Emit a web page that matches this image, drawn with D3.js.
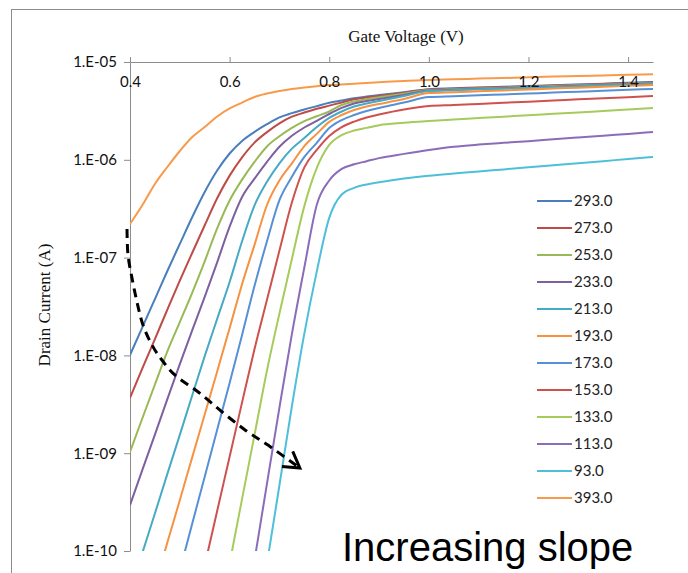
<!DOCTYPE html>
<html>
<head>
<meta charset="utf-8">
<script src="https://cdn.jsdelivr.net/npm/d3@7"></script>
<style>
  html, body { margin: 0; padding: 0; background: #ffffff; }
  svg { display: block; }
</style>
</head>
<body>
<svg id="chart" width="688" height="573"></svg>
<script>
// Gate voltage sweep (V), shared by every temperature curve
const gateVoltage = [0.400, 0.425, 0.450, 0.475, 0.500, 0.525, 0.550, 0.575, 0.600, 0.625,
                     0.650, 0.675, 0.700, 0.725, 0.750, 0.775, 0.800, 0.825, 0.850, 0.875,
                     0.900, 0.950, 1.000, 1.050, 1.100, 1.150, 1.200, 1.250, 1.300, 1.350,
                     1.400, 1.450];

// Drain current (A) per temperature (K); null = not measured in range
const drain293 = [1.01e-8, 1.95e-8, 3.77e-8, 7.29e-8, 1.38e-7, 2.60e-7, 4.69e-7, 7.77e-7, 1.16e-6, 1.56e-6,
                  1.93e-6, 2.31e-6, 2.71e-6, 3.00e-6, 3.27e-6, 3.54e-6, 3.83e-6, 4.04e-6, 4.26e-6, 4.43e-6,
                  4.59e-6, 4.92e-6, 5.28e-6, 5.38e-6, 5.49e-6, 5.58e-6, 5.68e-6, 5.79e-6, 5.90e-6, 6.01e-6,
                  6.13e-6, 6.24e-6];
const drain273 = [3.67e-9, 7.42e-9, 1.47e-8, 2.94e-8, 5.82e-8, 1.12e-7, 2.14e-7, 4.04e-7, 6.89e-7, 1.06e-6,
                  1.50e-6, 1.92e-6, 2.36e-6, 2.76e-6, 3.04e-6, 3.32e-6, 3.58e-6, 3.86e-6, 4.17e-6, 4.34e-6,
                  4.50e-6, 4.86e-6, 5.23e-6, 5.33e-6, 5.44e-6, 5.52e-6, 5.63e-6, 5.74e-6, 5.85e-6, 5.94e-6,
                  6.06e-6, 6.17e-6];
const drain253 = [1.03e-9, 2.29e-9, 5.04e-9, 1.10e-8, 2.19e-8, 4.39e-8, 9.17e-8, 1.99e-7, 3.84e-7, 6.27e-7,
                  9.52e-7, 1.37e-6, 1.74e-6, 2.12e-6, 2.49e-6, 2.79e-6, 3.12e-6, 3.63e-6, 3.95e-6, 4.16e-6,
                  4.35e-6, 4.74e-6, 5.17e-6, 5.27e-6, 5.37e-6, 5.46e-6, 5.56e-6, 5.67e-6, 5.78e-6, 5.87e-6,
                  5.99e-6, 6.10e-6];
const drain233 = [2.95e-10, 6.80e-10, 1.55e-9, 3.57e-9, 8.15e-9, 1.81e-8, 3.97e-8, 8.95e-8, 2.07e-7, 4.16e-7,
                  6.41e-7, 9.54e-7, 1.36e-6, 1.76e-6, 2.14e-6, 2.50e-6, 2.94e-6, 3.39e-6, 3.76e-6, 3.99e-6,
                  4.18e-6, 4.60e-6, 5.11e-6, 5.21e-6, 5.31e-6, 5.40e-6, 5.50e-6, 5.60e-6, 5.71e-6, 5.80e-6,
                  5.92e-6, 6.03e-6];
const drain213 = [3.80e-11, 9.63e-11, 2.42e-10, 6.14e-10, 1.54e-9, 3.91e-9, 9.83e-9, 2.36e-8, 5.63e-8, 1.47e-7,
                  3.42e-7, 5.96e-7, 9.21e-7, 1.30e-6, 1.67e-6, 2.16e-6, 2.68e-6, 3.12e-6, 3.51e-6, 3.76e-6,
                  3.99e-6, 4.49e-6, 5.05e-6, 5.15e-6, 5.25e-6, 5.33e-6, 5.44e-6, 5.54e-6, 5.64e-6, 5.74e-6,
                  5.85e-6, 5.96e-6];
const drain193 = [null, null, 4.42e-11, 1.22e-10, 3.31e-10, 9.12e-10, 2.49e-9, 6.86e-9, 1.90e-8, 5.35e-8,
                  1.35e-7, 3.45e-7, 6.14e-7, 9.19e-7, 1.38e-6, 1.84e-6, 2.44e-6, 2.87e-6, 3.23e-6, 3.51e-6,
                  3.72e-6, 4.18e-6, 4.81e-6, 4.91e-6, 5.02e-6, 5.12e-6, 5.23e-6, 5.35e-6, 5.46e-6, 5.58e-6,
                  5.70e-6, 5.82e-6];
const drain173 = [null, null, null, null, 6.30e-11, 1.91e-10, 5.75e-10, 1.74e-9, 5.23e-9, 1.62e-8,
                  5.14e-8, 1.47e-7, 3.86e-7, 6.70e-7, 1.07e-6, 1.49e-6, 2.11e-6, 2.55e-6, 2.87e-6, 3.16e-6,
                  3.39e-6, 3.85e-6, 4.38e-6, 4.47e-6, 4.56e-6, 4.66e-6, 4.76e-6, 4.87e-6, 4.97e-6, 5.08e-6,
                  5.19e-6, 5.30e-6];
const drain153 = [null, null, null, null, null, null, 7.12e-11, 2.57e-10, 9.19e-10, 3.31e-9,
                  1.16e-8, 3.70e-8, 1.18e-7, 3.66e-7, 8.36e-7, 1.26e-6, 1.75e-6, 2.16e-6, 2.46e-6, 2.71e-6,
                  2.90e-6, 3.26e-6, 3.54e-6, 3.63e-6, 3.73e-6, 3.83e-6, 3.93e-6, 4.03e-6, 4.15e-6, 4.25e-6,
                  4.37e-6, 4.49e-6];
const drain133 = [null, null, null, null, null, null, null, null, 7.47e-11, 3.41e-10,
                  1.54e-9, 7.02e-9, 2.68e-8, 9.68e-8, 3.36e-7, 8.26e-7, 1.42e-6, 1.79e-6, 1.99e-6, 2.12e-6,
                  2.26e-6, 2.39e-6, 2.49e-6, 2.58e-6, 2.67e-6, 2.76e-6, 2.86e-6, 2.95e-6, 3.05e-6, 3.16e-6,
                  3.27e-6, 3.39e-6];
const drain113 = [null, null, null, null, null, null, null, null, null, null,
                  8.05e-11, 4.89e-10, 2.92e-9, 1.65e-8, 7.92e-8, 3.47e-7, 6.14e-7, 8.07e-7, 8.99e-7, 9.68e-7,
                  1.04e-6, 1.15e-6, 1.26e-6, 1.36e-6, 1.43e-6, 1.49e-6, 1.55e-6, 1.62e-6, 1.69e-6, 1.76e-6,
                  1.84e-6, 1.92e-6];
const drain93  = [null, null, null, null, null, null, null, null, null, null,
                  null, 7.44e-11, 4.70e-10, 3.02e-9, 1.67e-8, 7.23e-8, 2.55e-7, 4.42e-7, 5.17e-7, 5.60e-7,
                  5.90e-7, 6.45e-7, 6.88e-7, 7.24e-7, 7.59e-7, 7.98e-7, 8.38e-7, 8.79e-7, 9.23e-7, 9.68e-7,
                  1.02e-6, 1.07e-6];
const drain393 = [2.21e-7, 3.45e-7, 5.66e-7, 8.44e-7, 1.23e-6, 1.71e-6, 2.16e-6, 2.77e-6, 3.35e-6, 3.85e-6,
                  4.39e-6, 4.76e-6, 5.05e-6, 5.30e-6, 5.49e-6, 5.66e-6, 5.82e-6, 5.89e-6, 6.00e-6, 6.11e-6,
                  6.22e-6, 6.39e-6, 6.55e-6, 6.65e-6, 6.77e-6, 6.86e-6, 6.98e-6, 7.09e-6, 7.19e-6, 7.29e-6,
                  7.40e-6, 7.50e-6];

// Legend order (temperature labels) and the matching curves
const temperatureLabels = ["293.0", "273.0", "253.0", "233.0", "213.0", "193.0",
                           "173.0", "153.0", "133.0", "113.0", "93.0", "393.0"];
const curves = [drain293, drain273, drain253, drain233, drain213, drain193,
                drain173, drain153, drain133, drain113, drain93, drain393];

// Axis ticks
const xTickValues = [0.4, 0.6, 0.8, 1.0, 1.2, 1.4];
const xTickLabels = ["0.4", "0.6", "0.8", "1.0", "1.2", "1.4"];
const yTickValues = [1e-5, 1e-6, 1e-7, 1e-8, 1e-9, 1e-10];
const yTickLabels = ["1.E-05", "1.E-06", "1.E-07", "1.E-08", "1.E-09", "1.E-10"];

// Annotation arrow path in data space (V, A)
const arrowV = [0.394, 0.396, 0.404, 0.414, 0.426, 0.444, 0.464, 0.490, 0.537, 0.585, 0.631, 0.677, 0.741];
const arrowI = [1.96e-7, 1.06e-7, 6.18e-8, 3.52e-8, 2.05e-8, 1.28e-8, 8.97e-9, 6.31e-9, 4.23e-9, 2.64e-9, 1.73e-9, 1.21e-9, 7.06e-10];

// Series colours
const palette = ["#4A7EBB", "#BE4B48", "#98B954", "#7D60A0", "#46AAC5", "#F69240",
                 "#5690D6", "#CF514E", "#A6CB5B", "#8B6CB8", "#4FBFD9", "#F79A4A"];

const svg = d3.select("#chart");
const labelFont = "Lato, 'Liberation Sans', sans-serif";
const titleFont = "'Liberation Serif', 'DejaVu Serif', serif";

const plot = { left: 130, right: 653, top: 62, bottom: 551 };

const x = d3.scaleLinear().domain([0.4, 1.45]).range([plot.left, plot.right]);
const y = d3.scaleLog().domain([1e-10, 1e-5]).range([plot.bottom, plot.top]);

// Outer chart frame
svg.append("rect")
  .attr("x", 11.5).attr("y", 9.5)
  .attr("width", 720).attr("height", 620)
  .attr("fill", "none").attr("stroke", "#8c8c8c").attr("stroke-width", 1);

// Clip for the curves
svg.append("defs").append("clipPath").attr("id", "plotClip")
  .append("rect")
  .attr("x", plot.left).attr("y", plot.top - 2)
  .attr("width", plot.right - plot.left + 2).attr("height", plot.bottom - plot.top + 2);

// Y axis (left)
const yAxis = d3.axisLeft(y)
  .tickValues(yTickValues)
  .tickFormat((d, i) => yTickLabels[i])
  .tickSize(6).tickSizeOuter(0).tickPadding(7);
const gy = svg.append("g")
  .attr("transform", `translate(${plot.left},0)`)
  .call(yAxis);
gy.select(".domain").attr("stroke", "#8c8c8c");
gy.selectAll(".tick line").attr("stroke", "#8c8c8c");
gy.selectAll(".tick text")
  .attr("font-family", labelFont).attr("font-size", 15).attr("fill", "#111");

// Curves
const line = d3.line()
  .defined(d => d[1] != null)
  .x(d => x(d[0]))
  .y(d => y(d[1]))
  .curve(d3.curveMonotoneX);

const curveLayer = svg.append("g").attr("clip-path", "url(#plotClip)");
curves.forEach((vals, i) => {
  const pts = gateVoltage.map((v, k) => [v, vals[k]]);
  curveLayer.append("path")
    .datum(pts)
    .attr("d", line)
    .attr("fill", "none")
    .attr("stroke", palette[i])
    .attr("stroke-width", 2)
    .attr("stroke-linejoin", "round");
});

// X axis along the top, labels sitting just inside the plot
const xAxis = d3.axisTop(x)
  .tickValues(xTickValues)
  .tickFormat((d, i) => xTickLabels[i])
  .tickSize(5).tickSizeOuter(0);
const gx = svg.append("g")
  .attr("transform", `translate(0,${plot.top})`)
  .call(xAxis);
gx.select(".domain").attr("stroke", "#8c8c8c");
gx.selectAll(".tick line").attr("stroke", "#8c8c8c");
gx.selectAll(".tick text")
  .attr("y", 25).attr("dy", "0")
  .attr("font-family", labelFont).attr("font-size", 15).attr("fill", "#111");

// Axis titles
svg.append("text")
  .attr("x", 406).attr("y", 42)
  .attr("text-anchor", "middle")
  .attr("font-family", titleFont).attr("font-size", 17).attr("fill", "#111")
  .text("Gate Voltage (V)");

svg.append("text")
  .attr("transform", "translate(50,305) rotate(-90)")
  .attr("text-anchor", "middle")
  .attr("font-family", titleFont).attr("font-size", 17).attr("fill", "#111")
  .text("Drain Current (A)");

// Legend
const legend = svg.append("g");
temperatureLabels.forEach((lab, i) => {
  const ly = 201 + i * 27;
  legend.append("line")
    .attr("x1", 537).attr("x2", 572).attr("y1", ly).attr("y2", ly)
    .attr("stroke", palette[i]).attr("stroke-width", 2);
  legend.append("text")
    .attr("x", 574).attr("y", ly).attr("dy", "0.36em")
    .attr("font-family", labelFont).attr("font-size", 15).attr("fill", "#222")
    .text(lab);
});

// Dashed "increasing slope" arrow
const arrowPts = arrowV.map((v, k) => [x(v), y(arrowI[k])]);
svg.append("path")
  .attr("d", d3.line().curve(d3.curveCatmullRom)(arrowPts))
  .attr("fill", "none").attr("stroke", "#000").attr("stroke-width", 3)
  .attr("stroke-dasharray", "9,6");

const tip = arrowPts[arrowPts.length - 1];
const prev = arrowPts[arrowPts.length - 2];
const back = Math.atan2(prev[1] - tip[1], prev[0] - tip[0]);
const headLen = 18, spread = 31 * Math.PI / 180;
const headPath = d3.path();
headPath.moveTo(tip[0] + headLen * Math.cos(back - spread), tip[1] + headLen * Math.sin(back - spread));
headPath.lineTo(tip[0], tip[1]);
headPath.lineTo(tip[0] + headLen * Math.cos(back + spread), tip[1] + headLen * Math.sin(back + spread));
svg.append("path")
  .attr("d", headPath.toString())
  .attr("fill", "none").attr("stroke", "#000").attr("stroke-width", 3)
  .attr("stroke-linejoin", "miter");

svg.append("text")
  .attr("x", 342).attr("y", 561)
  .attr("font-family", "'Liberation Sans', Arial, sans-serif")
  .attr("font-size", 40).attr("fill", "#000")
  .text("Increasing slope");
</script>
</body>
</html>
